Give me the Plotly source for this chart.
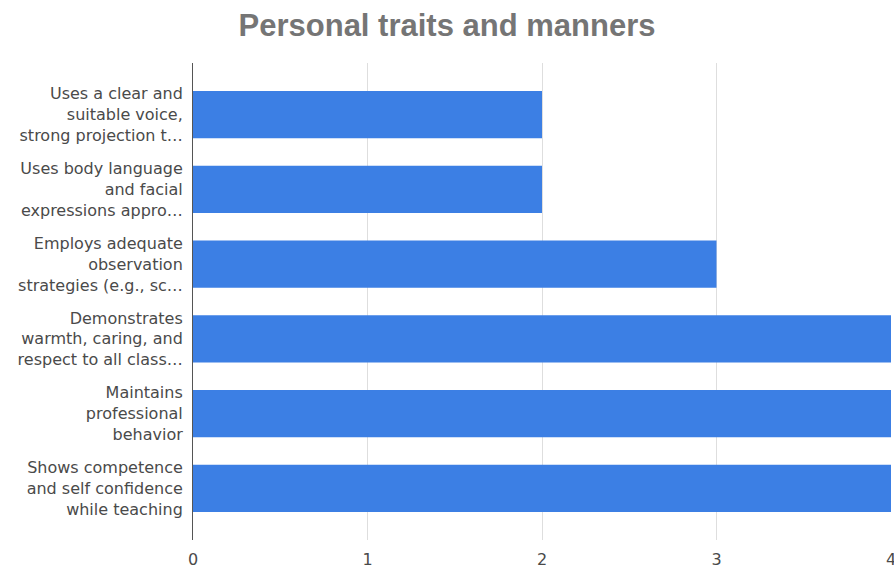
import plotly.graph_objects as go

categories = [
    "Uses a clear and<br>suitable voice,<br>strong projection t…",
    "Uses body language<br>and facial<br>expressions appro…",
    "Employs adequate<br>observation<br>strategies (e.g., sc…",
    "Demonstrates<br>warmth, caring, and<br>respect to all class…",
    "Maintains<br>professional<br>behavior",
    "Shows competence<br>and self confidence<br>while teaching",
]
values = [2, 2, 3, 4, 4, 4]
x_ticks = [0, 1, 2, 3, 4]

fig = go.Figure(go.Bar(
    y=categories, x=values, orientation="h",
    marker=dict(color="#3c7fe4", line=dict(width=0)),
    width=0.63,
))

fig.update_layout(
    width=894, height=572,
    margin=dict(l=193, r=3, t=63, b=32),
    paper_bgcolor="white", plot_bgcolor="white",
    title=dict(text="<b>Personal traits and manners</b>", x=0.5, xanchor="center",
               y=1 - 25 / 572, yanchor="middle",
               font=dict(family="Liberation Sans, Arial", size=31, color="#757575")),
    font=dict(family="DejaVu Sans, Arial", size=16, color="#4a4a4a"),
    showlegend=False,
)
fig.update_xaxes(
    range=[0, 4], tickvals=x_ticks, ticktext=[str(v) for v in x_ticks],
    showgrid=True, gridcolor="#dedede", gridwidth=1,
    zeroline=False, showline=False, automargin=False,
    ticks="outside", ticklen=5, tickcolor="rgba(0,0,0,0)",
    ticklabeloverflow="allow",
    tickfont=dict(family="DejaVu Sans, Arial", size=16, color="#4a4a4a"),
)
fig.update_yaxes(
    range=[5.69, -0.69], type="category",
    showgrid=False, zeroline=False, automargin=False,
    showline=True, linecolor="#555555", linewidth=1,
    ticks="", ticklabelstandoff=6,
    tickfont=dict(family="DejaVu Sans, Arial", size=16, color="#4a4a4a"),
)

fig.write_html("out.html")
